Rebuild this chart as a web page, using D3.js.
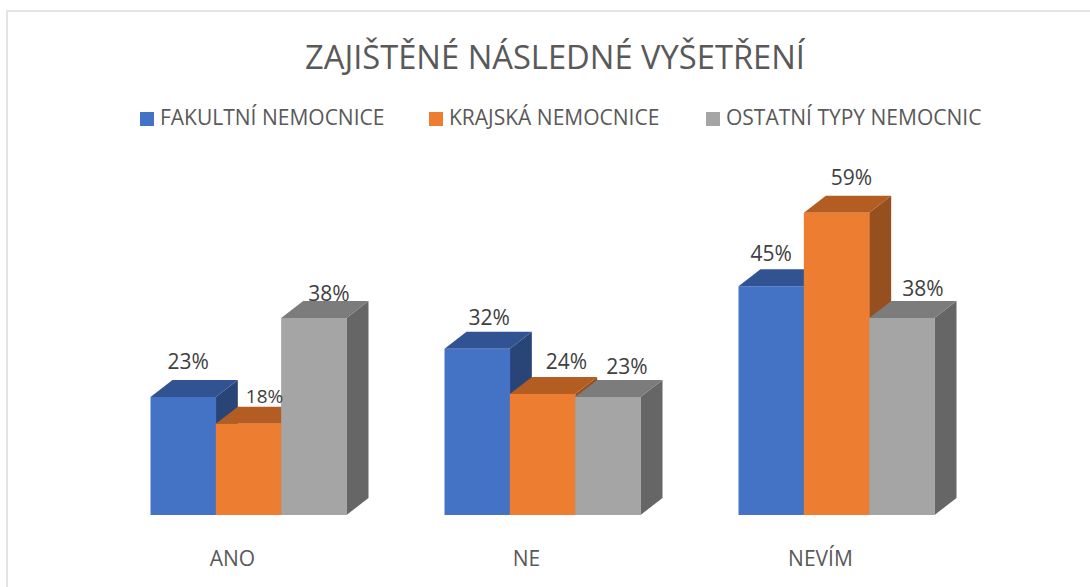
<!DOCTYPE html>
<html><head><meta charset="utf-8">
<script src="https://cdn.jsdelivr.net/npm/d3@7"></script>
<style>html,body{margin:0;background:#fff}svg{display:block}text{font-family:"Open Sans",sans-serif;fill:#595959}</style>
</head><body><script>
const categories=["ANO","NE","NEVÍM"];
const seriesNames=["FAKULTNÍ NEMOCNICE","KRAJSKÁ NEMOCNICE","OSTATNÍ TYPY NEMOCNIC"];
const fakultni=[23,32.4,44.6];
const krajska=[17.8,23.6,58.9];
const ostatni=[38.4,23,38.4];
const title="ZAJIŠTĚNÉ NÁSLEDNÉ VYŠETŘENÍ";
const seriesValues=[fakultni,krajska,ostatni];
const front=["#4472c4","#ed7d31","#a5a5a5"],top_=["#325391","#b35d22","#7c7c7c"],side=["#294477","#964f1e","#666666"];
const W=1090,H=587,base=515,dx=22,dy=-17;
const svg=d3.select("body").append("svg").attr("width",W).attr("height",H);
svg.append("path").attr("d",`M7,587V11H1090`).attr("fill","none").attr("stroke","#e4e4e4").attr("stroke-width",2);
const x0=d3.scaleBand().domain(categories).range([101.5,983.5]).paddingInner(1/3).paddingOuter(1/6);
const x1=d3.scaleBand().domain(d3.range(3)).range([0,x0.bandwidth()]);
const y=d3.scaleLinear().domain([0,60]).range([base,base-307.8]);
svg.append("text").attr("x",555).attr("y",69).attr("text-anchor","middle").attr("font-size",32.7).text(title);
const legX=[140,429,706],legText=[160,449,726];
seriesNames.forEach((n,i)=>{
 svg.append("rect").attr("x",legX[i]).attr("y",112).attr("width",14).attr("height",14).attr("fill",front[i]);
 svg.append("text").attr("x",legText[i]).attr("y",125).attr("font-size",21).text(n);
});
const marks=[];
categories.forEach((c,ci)=>seriesValues.forEach((s,si)=>marks.push({c,ci,si,v:s[ci]})));
const bx=d=>x0(d.c)+x1(d.si), bw=x1.bandwidth();
const g=svg.append("g");
g.selectAll(".side").data(marks).join("path").attr("fill",d=>side[d.si]).attr("d",d=>{const X=bx(d)+bw,Y=y(d.v);return `M${X},${Y}l${dx},${dy}V${base+dy}l${-dx},${-dy}Z`});
g.selectAll(".top").data(marks).join("path").attr("fill",d=>top_[d.si]).attr("d",d=>{const X=bx(d),Y=y(d.v);return `M${X},${Y}l${dx},${dy}h${bw}l${-dx},${-dy}Z`});
g.selectAll(".front").data(marks).join("rect").attr("x",bx).attr("y",d=>y(d.v)).attr("width",bw+.3).attr("height",d=>base-y(d.v)).attr("fill",d=>front[d.si]);
const labelNudge=[[[5,-28],[16,-21],[15,-17]],[[12,-24],[24,-25],[19,-23]],[[0,-25],[15,-28],[21,-22]]];
svg.selectAll(".lab").data(marks).join("text").attr("text-anchor","middle").style("fill","#404040")
 .attr("x",d=>bx(d)+bw/2+labelNudge[d.ci][d.si][0]).attr("y",d=>y(d.v)+labelNudge[d.ci][d.si][1])
 .attr("font-size",d=>d.ci==0&&d.si==1?19:21).text(d=>Math.round(d.v)+"%");
svg.selectAll(".cat").data(categories).join("text").attr("text-anchor","middle").attr("x",c=>x0(c)+x0.bandwidth()/2-16).attr("y",566).attr("font-size",21).text(c=>c);
</script></body></html>
